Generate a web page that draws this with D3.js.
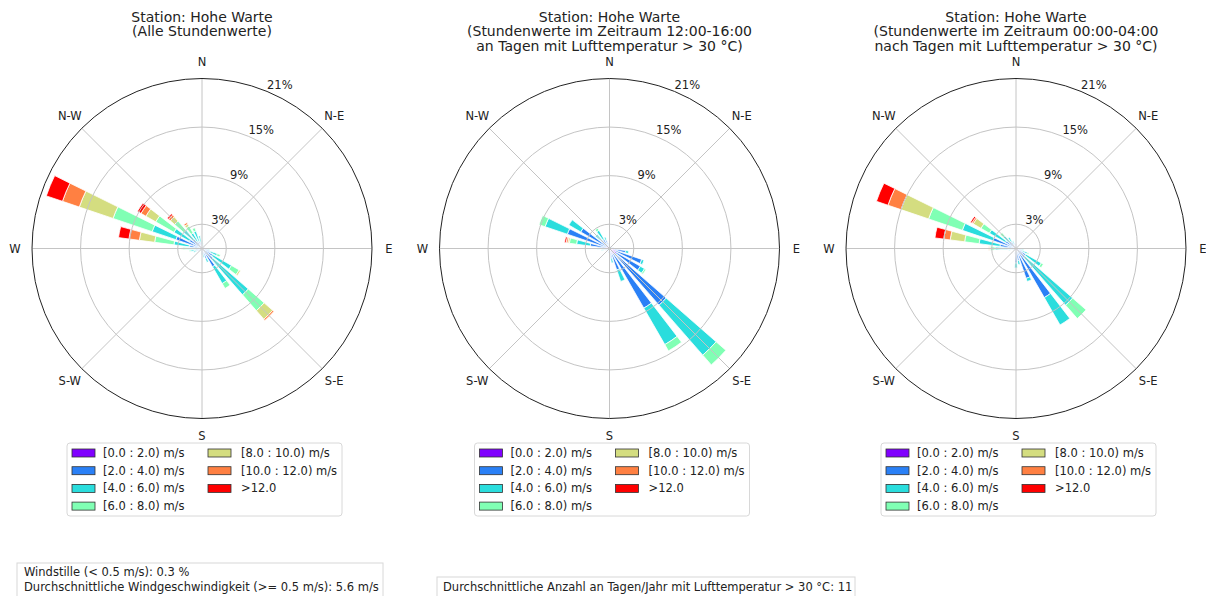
<!DOCTYPE html>
<html>
<head>
<meta charset="utf-8">
<script src="https://cdn.jsdelivr.net/npm/d3@7"></script>
<style>
  body { margin: 0; background: #fff; }
  svg { display: block; }
  text { font-family: "DejaVu Sans", sans-serif; fill: #222; }
</style>
</head>
<body>
<svg id="chart" width="1206" height="596"></svg>
<script>
// Wind speed classes and their colours (rainbow scale)
const speedBins = ["[0.0 : 2.0) m/s", "[2.0 : 4.0) m/s", "[4.0 : 6.0) m/s", "[6.0 : 8.0) m/s",
                   "[8.0 : 10.0) m/s", "[10.0 : 12.0) m/s", ">12.0"];
const binColors = ["#8000ff", "#2a80f6", "#2addDD", "#80ffb4", "#d4dd80", "#ff8042", "#ff0000"];

const compassLabels = ["N", "N-E", "E", "S-E", "S", "S-W", "W", "N-W"];
const radialTicks = [3, 9, 15, 21];
const sectorCount = 32;

// Frequencies (%) per direction (deg, clockwise from N) and speed class
const titlesAll = ["Station: Hohe Warte", "(Alle Stundenwerte)"];
const roseAll = [
  { dir: 0,      f: [0.2, 0.5, 0.3] },
  { dir: 11.25,  f: [0.1, 0.3, 0.2] },
  { dir: 22.5,   f: [0.1, 0.3] },
  { dir: 33.75,  f: [0.1, 0.2] },
  { dir: 45,     f: [0.1, 0.2] },
  { dir: 56.25,  f: [0.1, 0.2] },
  { dir: 67.5,   f: [0.1, 0.2] },
  { dir: 78.75,  f: [0.1, 0.2] },
  { dir: 90,     f: [0.1, 0.3] },
  { dir: 101.25, f: [0.2, 0.5, 0.3] },
  { dir: 112.5,  f: [0.2, 0.8, 1.0, 0.4] },
  { dir: 123.75, f: [0.3, 1.2, 2.7, 1.1, 0.2] },
  { dir: 135,    f: [0.3, 1.5, 5.8, 2.6, 1.4, 0.2] },
  { dir: 146.25, f: [0.3, 2.3, 2.4, 0.7] },
  { dir: 157.5,  f: [0.3, 1.0, 0.5] },
  { dir: 168.75, f: [0.2, 0.6, 0.3] },
  { dir: 180,    f: [0.2, 0.4, 0.2] },
  { dir: 191.25, f: [0.1, 0.3] },
  { dir: 202.5,  f: [0.1, 0.2] },
  { dir: 213.75, f: [0.1, 0.2] },
  { dir: 225,    f: [0.1, 0.2] },
  { dir: 236.25, f: [0.1, 0.2] },
  { dir: 247.5,  f: [0.2, 0.5, 0.4] },
  { dir: 258.75, f: [0.2, 0.6, 0.6, 0.2] },
  { dir: 270,    f: [0.2, 0.7, 1.0, 0.5, 0.1] },
  { dir: 281.25, f: [0.3, 1.3, 1.9, 2.4, 1.9, 1.3, 1.3] },
  { dir: 292.5,  f: [0.3, 3.1, 3.1, 5.1, 4.4, 2.2, 2.1] },
  { dir: 303.75, f: [0.3, 1.5, 2.2, 2.6, 1.4, 0.7, 0.5] },
  { dir: 315,    f: [0.3, 1.2, 1.5, 1.5, 0.7, 0.3, 0.2] },
  { dir: 326.25, f: [0.2, 0.8, 1.2, 1.0, 0.3, 0.2] },
  { dir: 337.5,  f: [0.2, 0.7, 1.4, 0.4] },
  { dir: 348.75, f: [0.2, 0.6, 0.8] }
];

const titlesAfternoon = ["Station: Hohe Warte", "(Stundenwerte im Zeitraum 12:00-16:00",
                         "an Tagen mit Lufttemperatur > 30 °C)"];
const roseAfternoon = [
  { dir: 0,      f: [0.2, 0.3] },
  { dir: 11.25,  f: [0.1, 0.2] },
  { dir: 22.5,   f: [0.1, 0.2] },
  { dir: 33.75,  f: [0.1, 0.2] },
  { dir: 45,     f: [0.1, 0.2] },
  { dir: 56.25,  f: [0.1, 0.2] },
  { dir: 67.5,   f: [0.1, 0.2] },
  { dir: 78.75,  f: [0.2, 0.3] },
  { dir: 90,     f: [0.3, 0.8] },
  { dir: 101.25, f: [0.4, 1.6, 0.4] },
  { dir: 112.5,  f: [0.8, 3.4, 0.3] },
  { dir: 123.75, f: [1.0, 3.4, 0.6, 0.2] },
  { dir: 135,    f: [0.8, 8.5, 8.2, 1.6] },
  { dir: 146.25, f: [0.8, 7.7, 5.2, 0.9] },
  { dir: 157.5,  f: [0.4, 2.4, 1.5] },
  { dir: 168.75, f: [0.4, 0.8, 0.6] },
  { dir: 180,    f: [0.3, 0.6] },
  { dir: 191.25, f: [0.2, 0.3] },
  { dir: 202.5,  f: [0.1, 0.2] },
  { dir: 225,    f: [0.1, 0.2] },
  { dir: 247.5,  f: [0.2, 0.3] },
  { dir: 258.75, f: [0.2, 0.5, 0.3] },
  { dir: 270,    f: [0.3, 0.8, 0.4] },
  { dir: 281.25, f: [0.3, 2.1, 1.7, 0.9, 0.2, 0.2, 0.2] },
  { dir: 292.5,  f: [0.5, 5.0, 2.9, 0.8] },
  { dir: 303.75, f: [0.4, 3.7, 1.7] },
  { dir: 315,    f: [0.3, 1.2, 0.8] },
  { dir: 326.25, f: [0.3, 1.0, 1.3, 0.3] },
  { dir: 337.5,  f: [0.3, 0.8, 0.4] },
  { dir: 348.75, f: [0.2, 0.4] }
];

const titlesNight = ["Station: Hohe Warte", "(Stundenwerte im Zeitraum 00:00-04:00",
                     "nach Tagen mit Lufttemperatur > 30 °C)"];
const roseNight = [
  { dir: 0,      f: [0.2, 0.3] },
  { dir: 11.25,  f: [0.1, 0.2] },
  { dir: 22.5,   f: [0.1, 0.2] },
  { dir: 45,     f: [0.1, 0.2] },
  { dir: 67.5,   f: [0.1, 0.2] },
  { dir: 90,     f: [0.2, 0.3] },
  { dir: 101.25, f: [0.2, 0.5, 0.3] },
  { dir: 112.5,  f: [0.2, 0.6, 0.7, 0.2] },
  { dir: 123.75, f: [0.3, 1.1, 2.2, 0.3] },
  { dir: 135,    f: [0.3, 1.2, 7.8, 2.2] },
  { dir: 146.25, f: [0.4, 6.6, 3.9] },
  { dir: 157.5,  f: [0.3, 3.6, 0.4] },
  { dir: 168.75, f: [0.3, 1.2, 0.5] },
  { dir: 180,    f: [0.3, 1.5, 0.6] },
  { dir: 191.25, f: [0.2, 0.4] },
  { dir: 225,    f: [0.1, 0.2] },
  { dir: 247.5,  f: [0.1, 0.3] },
  { dir: 258.75, f: [0.2, 0.4, 0.3] },
  { dir: 270,    f: [0.2, 1.0, 1.4, 0.6, 0.1, 0.1] },
  { dir: 281.25, f: [0.3, 1.7, 2.6, 1.8, 1.8, 0.8, 1.1] },
  { dir: 292.5,  f: [0.3, 2.7, 4.0, 4.4, 3.6, 1.7, 1.5] },
  { dir: 303.75, f: [0.3, 1.2, 2.3, 1.2, 1.1, 0.2, 0.2] },
  { dir: 315,    f: [0.3, 0.8, 1.0, 0.5] },
  { dir: 326.25, f: [0.3, 0.7, 0.6] },
  { dir: 337.5,  f: [0.2, 0.5, 0.3] },
  { dir: 348.75, f: [0.2, 0.3] }
];

const calmText = ["Windstille (< 0.5 m/s): 0.3 %",
                  "Durchschnittliche Windgeschwindigkeit (>= 0.5 m/s): 5.6 m/s"];
const hotDaysText = "Durchschnittliche Anzahl an Tagen/Jahr mit Lufttemperatur > 30 °C: 11";

const panels = [
  { cx: 202,   titles: titlesAll,       rows: roseAll },
  { cx: 609.5, titles: titlesAfternoon, rows: roseAfternoon },
  { cx: 1016,  titles: titlesNight,     rows: roseNight }
];

const svg = d3.select("#chart");
const cy = 248.5;
const outerR = 170;
const r = d3.scaleLinear().domain([0, 21]).range([0, outerR]);
const rad = d => d * Math.PI / 180;
const halfWidth = rad(360 / sectorCount) * 0.34;

panels.forEach(p => {
  // titles
  svg.append("g").selectAll("text").data(p.titles).join("text")
    .attr("x", p.cx).attr("y", (d, i) => 21.5 + i * 14.7)
    .attr("text-anchor", "middle").style("font-size", "14px").text(d => d);

  const g = svg.append("g").attr("transform", `translate(${p.cx},${cy})`);

  // stacked sectors
  const arc = d3.arc();
  p.rows.forEach(row => {
    let acc = 0;
    row.f.forEach((v, i) => {
      const a = rad(row.dir);
      g.append("path")
        .attr("d", arc({ innerRadius: r(acc), outerRadius: r(acc + v),
                         startAngle: a - halfWidth, endAngle: a + halfWidth }))
        .attr("fill", binColors[i]).attr("stroke", "#fff").attr("stroke-width", 0.8);
      acc += v;
    });
  });

  // grid
  g.selectAll("circle.grid").data(radialTicks.slice(0, -1)).join("circle")
    .attr("r", d => r(d)).attr("fill", "none").attr("stroke", "#c4c4c4").attr("stroke-width", 1);
  g.selectAll("line.spoke").data(d3.range(0, 360, 45)).join("line")
    .attr("x1", 0).attr("y1", 0)
    .attr("x2", d => outerR * Math.sin(rad(d))).attr("y2", d => -outerR * Math.cos(rad(d)))
    .attr("stroke", "#c4c4c4").attr("stroke-width", 1);
  g.append("circle").attr("r", r(21)).attr("fill", "none")
    .attr("stroke", "#222").attr("stroke-width", 1);

  // percentage labels
  g.selectAll("text.rt").data(radialTicks).join("text")
    .attr("x", d => r(d) * Math.sin(rad(22.5)))
    .attr("y", d => -r(d) * Math.cos(rad(22.5)) - 2)
    .style("font-size", "11.5px").text(d => d + "%");

  // compass labels
  g.selectAll("text.cmp").data(compassLabels).join("text")
    .attr("x", (d, i) => 187 * Math.sin(rad(i * 45)))
    .attr("y", (d, i) => -187 * Math.cos(rad(i * 45)))
    .attr("dy", "0.35em").attr("text-anchor", "middle")
    .style("font-size", "11.5px").text(d => d);

  // legend
  const lx = p.cx - 135, ly = 443;
  const lg = svg.append("g").attr("transform", `translate(${lx},${ly})`);
  lg.append("rect").attr("width", 275).attr("height", 73).attr("rx", 3)
    .attr("fill", "#fff").attr("stroke", "#d8d8d8");
  const items = lg.selectAll("g.item").data(speedBins).join("g")
    .attr("transform", (d, i) => `translate(${i < 4 ? 5 : 141},${10 + (i % 4) * 17.7})`);
  items.append("rect").attr("x", 0).attr("y", -4).attr("width", 23).attr("height", 8)
    .attr("fill", (d, i) => binColors[i]).attr("stroke", "#333").attr("stroke-width", 0.8);
  items.append("text").attr("x", (d, i) => i < 4 ? 31 : 33).attr("dy", "0.35em")
    .style("font-size", "11.5px").text(d => d);
});

// footnotes
const fb = svg.append("g");
fb.append("rect").attr("x", 17).attr("y", 563).attr("width", 366).attr("height", 40)
  .attr("fill", "#fff").attr("stroke", "#d8d8d8");
fb.selectAll("text").data(calmText).join("text")
  .attr("x", 24).attr("y", (d, i) => 576 + i * 15)
  .style("font-size", "11.5px").text(d => d);

svg.append("rect").attr("x", 437).attr("y", 577).attr("width", 418).attr("height", 30)
  .attr("fill", "#fff").attr("stroke", "#d8d8d8");
svg.append("text").attr("x", 443).attr("y", 591)
  .style("font-size", "11.5px").text(hotDaysText);
</script>
</body>
</html>
